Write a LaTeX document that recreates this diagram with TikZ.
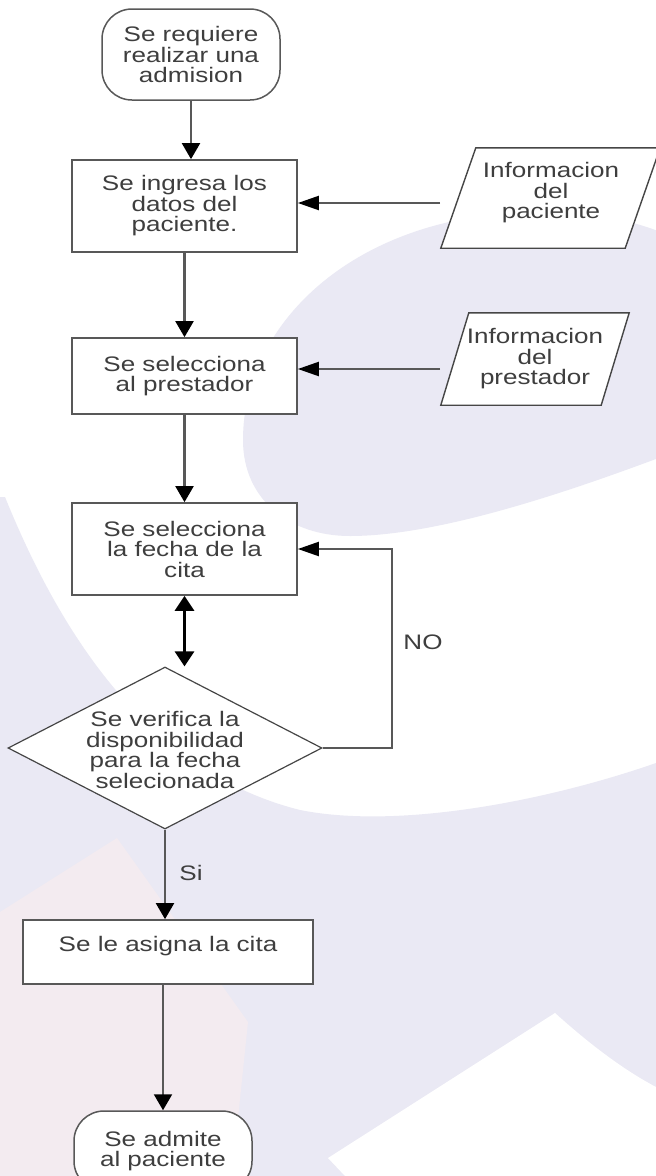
\documentclass[tikz,border=0pt]{standalone}
\usepackage{fontspec}
\setmainfont[FakeStretch=1.24]{Liberation Sans}
\usetikzlibrary{arrows.meta,shapes.geometric,calc}

\definecolor{wmlav}{RGB}{234,233,244}
\definecolor{wmpink}{RGB}{243,235,240}
\definecolor{edgegray}{RGB}{88,88,88}
\definecolor{ink}{RGB}{62,62,62}

\newcommand{\flowfont}{\fontsize{21}{20.5}\selectfont}

\tikzset{
  base/.style={inner sep=0pt, align=center, font=\flowfont, text=ink},
  procbox/.style={base, rectangle, draw=edgegray, line width=1.7pt, fill=white,
                  minimum width=225pt, minimum height=92pt},
  termbox/.style={base, rectangle, rounded corners=30pt, draw=edgegray,
                  line width=1.5pt, fill=white, minimum width=178pt},
  decbox/.style={diamond, draw=edgegray!80!black, line width=1.2pt, fill=white,
                 inner sep=0pt, minimum width=314pt, minimum height=162pt},
  iohold/.style={base, rectangle},
  iobox/.style={draw=edgegray!80!black, line width=1.4pt, fill=white},
  lbl/.style={base},
  vflow/.style={draw=edgegray, line width=2.1pt,
                -{Triangle[length=16pt,width=18pt,color=black]}},
  hflow/.style={draw=edgegray, line width=2.1pt, line join=miter,
                -{Triangle[length=21pt,width=14pt,color=black]}},
  dflow/.style={draw=black, line width=3pt,
                {Triangle[length=15pt,width=19pt]}-{Triangle[length=15pt,width=19pt]}},
}

\begin{document}
\begin{tikzpicture}[x=1pt,y=-1pt]
\useasboundingbox (0,0) rectangle (656,1176);

% faint background artwork
\begin{scope}
  \clip (0,0) rectangle (656,1176);
  \fill[white] (0,0) rectangle (656,1176);
  % lower sweep
  \fill[wmlav] (0,497) -- (5,497)
     .. controls (55,620) and (140,770) .. (300,810)
     .. controls (400,830) and (550,800) .. (656,763)
     -- (656,1176) -- (0,1176) -- cycle;
  % upper rounded blob
  \fill[wmlav] (243,440)
     .. controls (243,320) and (360,212) .. (540,212)
     .. controls (600,212) and (640,222) .. (680,240)
     -- (680,450)
     .. controls (600,480) and (450,536) .. (350,536)
     .. controls (290,536) and (243,500) .. (243,440) -- cycle;
  % pale warm wedge
  \fill[wmpink] (0,912) -- (117,838) -- (248,1022) -- (232,1176) -- (0,1176) -- cycle;
  % white corner shape
  \fill[white] (555,1013) .. controls (585,1040) and (620,1068) .. (656,1087)
     -- (656,1176) -- (345,1176) -- (328,1158) -- cycle;
\end{scope}

% main column
\node[termbox, minimum height=91pt] (start) at (191,54.5) {Se requiere\\realizar una\\admision};
\node[procbox] (b1) at (184.5,206) {Se ingresa los\\datos del\\paciente.};
\node[procbox, minimum height=76pt] (b2) at (184.5,376) {Se selecciona\\al prestador};
\node[procbox] (b3) at (184.5,549) {Se selecciona\\la fecha de la\\cita};
\node[decbox] (dec) at (165,748) {};
\node[base] (dectxt) at (165,750) {Se verifica la\\disponibilidad\\para la fecha\\selecionada};
\node[procbox, minimum width=290pt, minimum height=64pt] (b4) at (168,952) {};
\node[base] (b4txt) at (168,946) {Se le asigna la cita};
\node[termbox, minimum height=80pt] (stop) at (163,1151) {Se admite\\al paciente};

% input shapes
\node[iohold, minimum width=219pt, minimum height=100pt] (in1) at (550.5,198) {};
\draw[iobox] ($(in1.north west)+(35,0)$) -- (in1.north east)
  -- ($(in1.south east)+(-35,0)$) -- (in1.south west) -- cycle;
\node[base] (in1txt) at (551,193) {Informacion\\del\\paciente};

\node[iohold, minimum width=188pt, minimum height=92pt] (in2) at (535,359) {};
\draw[iobox] ($(in2.north west)+(28,0)$) -- (in2.north east)
  -- ($(in2.south east)+(-28,0)$) -- (in2.south west) -- cycle;
\node[base] (in2txt) at (535,359) {Informacion\\del\\prestador};

% connectors
\coordinate (feed1) at (440,203);
\coordinate (feed2) at (440,369);
\coordinate (loopx) at (392,0);

\draw[vflow] (start.south) -- (start.south |- b1.north);
\draw[hflow] (feed1) -- (feed1 -| b1.east);
\draw[vflow] (b1.south) -- (b2.north);
\draw[hflow] (feed2) -- (feed2 -| b2.east);
\draw[vflow] (b2.south) -- (b3.north);
\draw[dflow] (b3.south) -- (b3.south |- dec.north);
\draw[hflow] (dec.east) -- (dec.east -| loopx) -- (b3.east -| loopx) -- (b3.east);
\draw[vflow] (dec.south) -- (dec.south |- b4.north);
\draw[vflow] (stop.north |- b4.south) -- (stop.north);

% branch labels
\node[lbl] (no) at (423,642) {NO};
\node[lbl] (si) at (191,873) {Si};
\end{tikzpicture}
\end{document}
